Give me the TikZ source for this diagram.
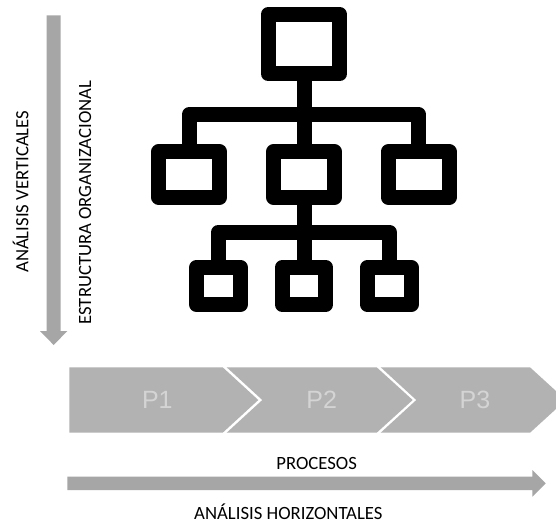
\documentclass[tikz,border=0pt]{standalone}
\usepackage{fontspec}
\setmainfont{Carlito}
\newfontfamily\arialfont{Liberation Sans}
\definecolor{arrowgray}{HTML}{A6A6A6}
\definecolor{chevgray}{HTML}{B2B2B2}
\definecolor{chevtext}{HTML}{D4D4D4}
\tikzset{
  x=1pt,y=-1pt,
  orgbox/.style={draw=black,fill=white,line width=15pt,line join=round,outer sep=0pt,inner sep=0pt},
  topbox/.style={orgbox,minimum width=71.6pt,minimum height=59.5pt},
  midbox/.style={orgbox,minimum width=61pt,minimum height=45.5pt},
  lowbox/.style={orgbox,minimum width=43.5pt,minimum height=37.5pt},
  orglink/.style={draw=black,line width=15pt,line join=round},
  bigarrow/.style={fill=arrowgray,draw=none},
  chev/.style={fill=chevgray,draw=none},
  chevlabel/.style={text=chevtext,font=\arialfont\fontsize{25}{25}\selectfont,inner sep=0pt},
  caption/.style={text=black,font=\fontsize{18.7}{19}\selectfont,inner sep=0pt},
}
\begin{document}
\begin{tikzpicture}
\useasboundingbox (0,0) rectangle (556,523);
\fill[white] (0,0) rectangle (556,523);
% arrows
\fill[bigarrow] (46.7,15.3) -- (60.7,15.3) -- (60.7,331) -- (67.3,331) -- (53.7,345) -- (40,331) -- (46.7,331) -- cycle;
\fill[bigarrow] (67.3,476.7) -- (532.3,476.7) -- (532.3,470) -- (545.7,483.3) -- (532.3,496.7) -- (532.3,490) -- (67.3,490) -- cycle;
% chevrons
\fill[chev] (69.3,367.3) -- (222.7,367.3) -- (258.3,400) -- (222.7,432.7) -- (69.3,432.7) -- cycle;
\fill[chev] (226.7,367.3) -- (376.7,367.3) -- (412.7,400) -- (376.7,432.7) -- (226.7,432.7) -- (262.3,400) -- cycle;
\fill[chev] (380.7,367.3) -- (530,367.3) -- (556,391) -- (556,409) -- (530,432.7) -- (380.7,432.7) -- (416.3,400) -- cycle;
\node[chevlabel] (p1) at (157.3,400) {P1};
\node[chevlabel] (p2) at (321.7,400) {P2};
\node[chevlabel] (p3) at (475,400) {P3};
% captions
\node[caption] (procesos) at (316.7,463.3) {PROCESOS};
\node[caption] (horiz) at (288.3,511.5) {ANÁLISIS HORIZONTALES};
\node[caption,rotate=90] (vert) at (20.7,191.7) {ANÁLISIS VERTICALES};
\node[caption,rotate=90] (estr) at (85,202.5) {ESTRUCTURA ORGANIZACIONAL};
% org chart
\node[topbox] (top) at (304,44.2) {};
\node[midbox] (ml) at (189.2,174.5) {};
\node[midbox] (mm) at (304,174.5) {};
\node[midbox] (mr) at (418.7,174.5) {};
\node[lowbox] (ll) at (218.5,286) {};
\node[lowbox] (lm) at (304,286) {};
\node[lowbox] (lr) at (389.3,286) {};
\coordinate (busa) at (304,114.5);
\coordinate (busb) at (304,232);
\draw[orglink] (top.south) -- (mm.north);
\draw[orglink] (ml.north) |- (busa) -| (mr.north);
\draw[orglink] (mm.south) -- (lm.north);
\draw[orglink] (ll.north) |- (busb) -| (lr.north);
\end{tikzpicture}
\end{document}
